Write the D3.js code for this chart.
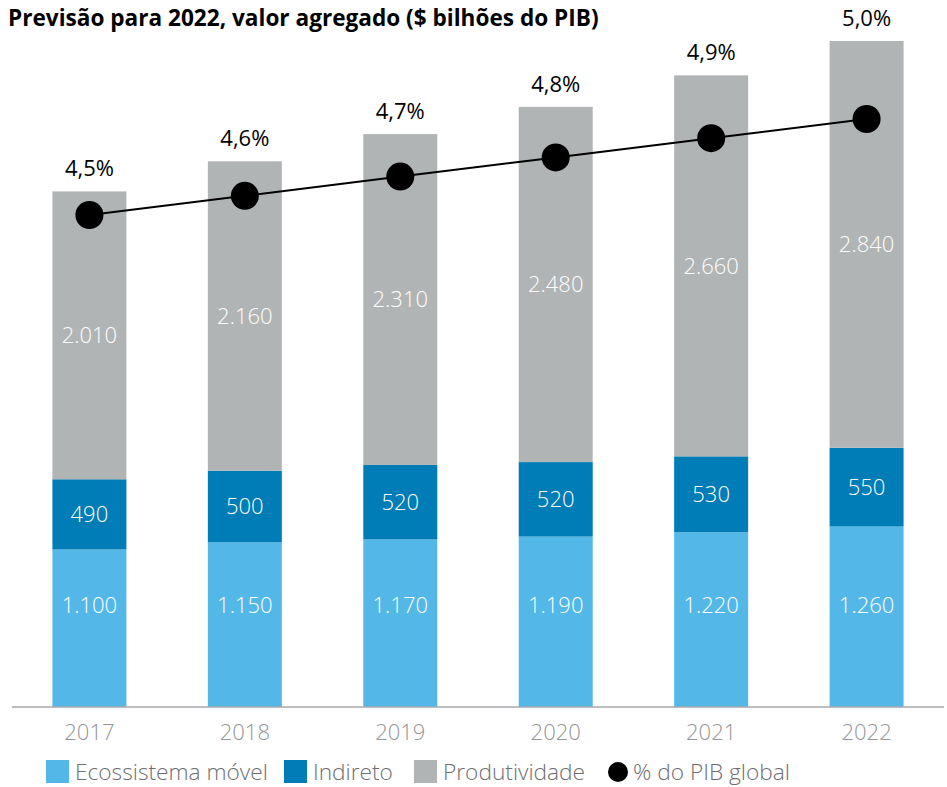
<!DOCTYPE html>
<html>
<head>
<meta charset="utf-8">
<script src="https://cdn.jsdelivr.net/npm/d3@7"></script>
<style>
  body { margin: 0; background: #fff; }
  text { font-family: "Open Sans", sans-serif; }
</style>
</head>
<body>
<div id="chart"></div>
<script>
// data
var years = ["2017", "2018", "2019", "2020", "2021", "2022"];
var ecossistema = [1100, 1150, 1170, 1190, 1220, 1260];
var indireto = [490, 500, 520, 520, 530, 550];
var produtividade = [2010, 2160, 2310, 2480, 2660, 2840];
var pibPct = [4.5, 4.6, 4.7, 4.8, 4.9, 5.0];
var seriesNames = ["Ecossistema móvel", "Indireto", "Produtividade"];
var seriesColors = ["#53b8e8", "#007cb6", "#b1b4b5"];

var width = 947, height = 787;

var svg = d3.select("#chart")
  .append("svg")
    .attr("width", width)
    .attr("height", height);

// title
svg.append("text")
  .attr("x", 8)
  .attr("y", 26)
  .style("font-size", "22.6px")
  .style("font-weight", "bold")
  .attr("fill", "#000")
  .text("Previsão para 2022, valor agregado ($ bilhões do PIB)");

// scales
var x = d3.scaleBand()
  .domain(years)
  .range([12, 944])
  .paddingInner(0.524)
  .paddingOuter(0.26);

var y = d3.scaleLinear()
  .domain([0, 4650])
  .range([707, 41]);

// % line uses its own scale
var y2 = d3.scaleLinear()
  .domain([4.5, 5.0])
  .range([215, 119]);

// stack
var rows = years.map(function(yr, i) {
  return { year: yr, eco: ecossistema[i], ind: indireto[i], prod: produtividade[i], pct: pibPct[i] };
});
var keys = ["eco", "ind", "prod"];
var stacked = d3.stack().keys(keys)(rows);

var layer = svg.append("g")
  .selectAll("g")
  .data(stacked)
  .enter()
  .append("g")
    .attr("fill", function(d, i) { return seriesColors[i]; });

layer.selectAll("rect")
  .data(function(d) { return d; })
  .enter()
  .append("rect")
    .attr("x", function(d) { return x(d.data.year); })
    .attr("y", function(d) { return y(d[1]); })
    .attr("width", x.bandwidth())
    .attr("height", function(d) { return y(d[0]) - y(d[1]); });

// segment labels
var fmt = function(v) { return d3.format(",")(v).replace(/,/g, "."); };

layer.selectAll("text")
  .data(function(d) { return d.map(function(p) { p.key = d.key; return p; }); })
  .enter()
  .append("text")
    .attr("x", function(d) { return x(d.data.year) + x.bandwidth() / 2; })
    .attr("y", function(d) {
      // bottom labels all sit on one row
      if (d.key == "eco") return y(0) - 102;
      return (y(d[0]) + y(d[1])) / 2;
    })
    .attr("dy", "0.35em")
    .attr("text-anchor", "middle")
    .attr("fill", "#fff")
    .style("font-size", "22px")
    .style("font-weight", 300)
    .text(function(d) { return fmt(d.data[d.key]); });

// percent labels above bars
svg.append("g")
  .selectAll("text")
  .data(rows)
  .enter()
  .append("text")
    .attr("x", function(d) { return x(d.year) + x.bandwidth() / 2; })
    .attr("y", function(d) { return y(d.eco + d.ind + d.prod) - 23; })
    .attr("dy", "0.35em")
    .attr("text-anchor", "middle")
    .attr("fill", "#000")
    .style("font-size", "22px")
    .text(function(d) { return d.pct.toFixed(1).replace(".", ",") + "%"; });

// x axis
svg.append("line")
  .attr("x1", 12).attr("x2", 944)
  .attr("y1", y(0)).attr("y2", y(0))
  .attr("stroke", "#a7a9ac")
  .attr("stroke-width", 1.5);

svg.append("g")
  .selectAll("text")
  .data(years)
  .enter()
  .append("text")
    .attr("x", function(d) { return x(d) + x.bandwidth() / 2; })
    .attr("y", 732)
    .attr("dy", "0.35em")
    .attr("text-anchor", "middle")
    .attr("fill", "#939598")
    .style("font-size", "22px")
    .style("font-weight", 300)
    .text(function(d) { return d; });

// line + dots
var line = d3.line()
  .x(function(d) { return x(d.year) + x.bandwidth() / 2; })
  .y(function(d) { return y2(d.pct); });

svg.append("path")
  .datum(rows)
  .attr("d", line)
  .attr("fill", "none")
  .attr("stroke", "#000")
  .attr("stroke-width", 2);

svg.append("g")
  .selectAll("circle")
  .data(rows)
  .enter()
  .append("circle")
    .attr("cx", function(d) { return x(d.year) + x.bandwidth() / 2; })
    .attr("cy", function(d) { return y2(d.pct); })
    .attr("r", 14)
    .attr("fill", "#000");

// legend
var legX = [46, 284, 414];
var legend = svg.append("g");
legend.selectAll("rect")
  .data(seriesNames)
  .enter()
  .append("rect")
    .attr("x", function(d, i) { return legX[i]; })
    .attr("y", 760)
    .attr("width", 23)
    .attr("height", 23)
    .attr("fill", function(d, i) { return seriesColors[i]; });

legend.selectAll("text.s")
  .data(seriesNames)
  .enter()
  .append("text")
    .attr("class", "s")
    .attr("x", function(d, i) { return legX[i] + 29; })
    .attr("y", 772)
    .attr("dy", "0.35em")
    .attr("fill", "#6d6e71")
    .style("font-size", "22.7px")
    .style("font-weight", 300)
    .text(function(d) { return d; });

legend.append("circle")
  .attr("cx", 618)
  .attr("cy", 772)
  .attr("r", 10)
  .attr("fill", "#000");

legend.append("text")
  .attr("x", 633)
  .attr("y", 772)
  .attr("dy", "0.35em")
  .attr("fill", "#6d6e71")
  .style("font-size", "22.7px")
  .style("font-weight", 300)
  .text("% do PIB global");
</script>
</body>
</html>
